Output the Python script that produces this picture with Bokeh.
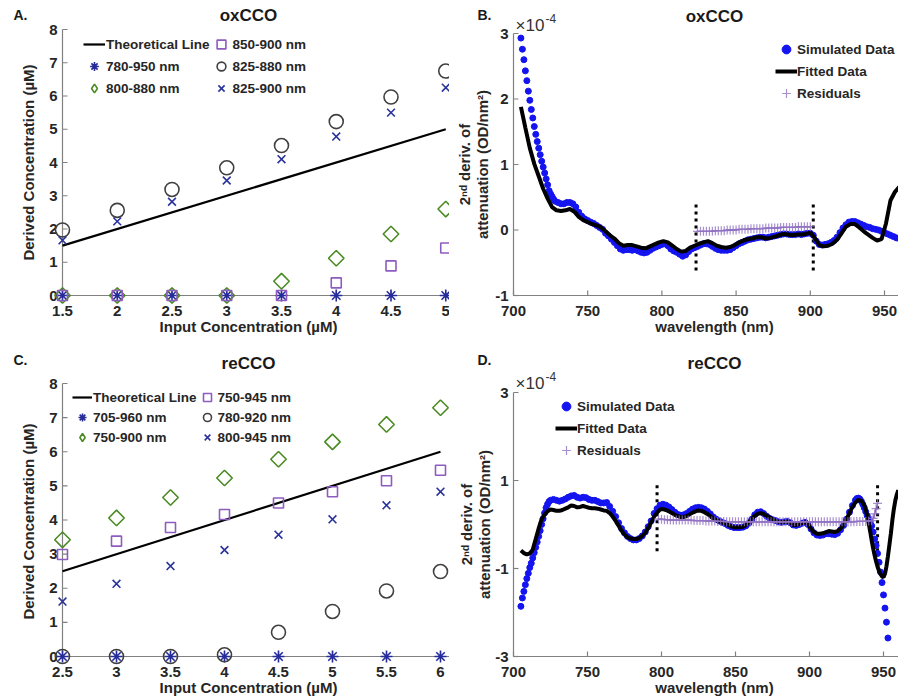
import math
from bokeh.plotting import figure
from bokeh.models import Range1d, Legend, LegendItem, Label
from bokeh.core.properties import value
from bokeh.layouts import column, row
from bokeh.embed import file_html
from bokeh.resources import INLINE

FONT = "Liberation Sans"
AX = "#808080"
TXT = "#262626"

# ---------------- Panel A (oxCCO concentrations) ----------------
a_input = [1.5, 2.0, 2.5, 3.0, 3.5, 4.0, 4.5, 5.0]
a_theory_x = [1.5, 5.0]
a_theory_y = [1.5, 5.0]
a_780_950 = [0, 0, 0, 0, 0, 0, 0, 0]
a_800_880 = [0, 0, 0, 0, 0.43, 1.12, 1.85, 2.60]
a_850_900 = [0, 0, 0, 0, 0, 0.38, 0.89, 1.43]
a_825_880 = [1.97, 2.56, 3.19, 3.84, 4.51, 5.23, 5.97, 6.75]
a_825_900 = [1.66, 2.23, 2.82, 3.46, 4.10, 4.78, 5.50, 6.25]
a_labels = ["Theoretical Line", "780-950 nm", "800-880 nm", "850-900 nm", "825-880 nm", "825-900 nm"]
a_xticks = [1.5, 2, 2.5, 3, 3.5, 4, 4.5, 5]

# ---------------- Panel C (reCCO concentrations) ----------------
c_input = [2.5, 3.0, 3.5, 4.0, 4.5, 5.0, 5.5, 6.0]
c_theory_x = [2.5, 6.0]
c_theory_y = [2.5, 6.0]
c_705_960 = [0, 0, 0, 0, 0, 0, 0, 0]
c_750_900 = [3.42, 4.06, 4.66, 5.23, 5.78, 6.29, 6.80, 7.29]
c_750_945 = [2.99, 3.38, 3.78, 4.16, 4.50, 4.83, 5.15, 5.46]
c_780_920 = [0, 0, 0, 0.05, 0.71, 1.32, 1.92, 2.49]
c_800_945 = [1.61, 2.13, 2.65, 3.12, 3.57, 4.02, 4.43, 4.83]
c_labels = ["Theoretical Line", "705-960 nm", "750-900 nm", "750-945 nm", "780-920 nm", "800-945 nm"]
c_xticks = [2.5, 3, 3.5, 4, 4.5, 5, 5.5, 6]

conc_yticks = [0, 1, 2, 3, 4, 5, 6, 7, 8]

# ---------------- Panel B (oxCCO spectra, x1e-4) ----------------
b_sim_nm = list(range(705, 729)) + list(range(730, 961, 2))
b_sim = [2.93, 2.76, 2.60, 2.43, 2.28, 2.12, 1.98, 1.84, 1.71, 1.58,
         1.46, 1.35, 1.25, 1.15, 1.05, 0.96, 0.87, 0.78, 0.69, 0.60,
         0.55, 0.51, 0.47, 0.44,
         0.42, 0.40, 0.40, 0.42, 0.42, 0.40, 0.35, 0.27, 0.21, 0.17,
         0.145, 0.12, 0.10, 0.07, 0.04, 0.01, -0.05, -0.09, -0.14, -0.19,
         -0.24, -0.29, -0.31, -0.30, -0.30, -0.31, -0.30, -0.32, -0.34, -0.35,
         -0.34, -0.31, -0.28, -0.26, -0.24, -0.22, -0.21, -0.24, -0.29, -0.32,
         -0.34, -0.37, -0.40, -0.38, -0.33, -0.29, -0.27, -0.25, -0.23, -0.21,
         -0.21, -0.22, -0.25, -0.28, -0.30, -0.31, -0.31, -0.31, -0.30, -0.27,
         -0.24, -0.21, -0.19, -0.17, -0.15, -0.14, -0.13, -0.12, -0.11, -0.11,
         -0.12, -0.11, -0.10, -0.09, -0.08, -0.07, -0.06, -0.06, -0.07, -0.07,
         -0.07, -0.06, -0.07, -0.06, -0.05, -0.05, -0.08, -0.17, -0.22, -0.23,
         -0.22, -0.21, -0.19, -0.16, -0.11, -0.04, 0.03, 0.08, 0.12, 0.13,
         0.13, 0.11, 0.09, 0.07, 0.05, 0.04, 0.02, 0.01, 0.00, -0.02,
         -0.04, -0.06, -0.08, -0.10, -0.12, -0.13]
b_fit_nm = list(range(705, 961, 3)) + [960]
b_fit = [1.88, 1.56, 1.25, 1.01, 0.82, 0.63, 0.48, 0.35, 0.30, 0.29,
         0.30, 0.32, 0.28, 0.20, 0.15, 0.12, 0.09, 0.07, 0.04, -0.02,
         -0.08, -0.13, -0.20, -0.24, -0.23, -0.23, -0.25, -0.27, -0.28, -0.25,
         -0.22, -0.19, -0.17, -0.19, -0.24, -0.29, -0.33, -0.32, -0.27, -0.24,
         -0.21, -0.19, -0.17, -0.20, -0.24, -0.26, -0.27, -0.26, -0.23, -0.19,
         -0.16, -0.14, -0.13, -0.11, -0.11, -0.13, -0.12, -0.10, -0.08, -0.06,
         -0.07, -0.08, -0.07, -0.07, -0.06, -0.04, -0.12, -0.23, -0.25, -0.24,
         -0.21, -0.15, -0.05, 0.05, 0.09, 0.09, 0.04, -0.02, -0.07, -0.12,
         -0.16, -0.14, 0.10, 0.45, 0.58, 0.66]
b_res_nm = list(range(824, 902, 2))
b_res = [-0.02, -0.02, -0.02, -0.02, -0.02, -0.02, -0.01, -0.01, -0.01, -0.01,
         0.00, 0.00, 0.00, 0.00, 0.01, 0.01, 0.01, 0.01, 0.02, 0.02,
         0.02, 0.02, 0.02, 0.03, 0.03, 0.03, 0.03, 0.03, 0.04, 0.04,
         0.04, 0.04, 0.04, 0.04, 0.05, 0.05, 0.05, 0.05, 0.05]
b_window_nm = [823, 902]
b_window_y = [-0.62, 0.43]

# ---------------- Panel D (reCCO spectra, x1e-4) ----------------
d_sim_nm = list(range(705, 726)) + list(range(727, 932, 2)) + list(range(932, 954))
d_sim = [-1.86, -1.67, -1.52, -1.37, -1.23, -1.11, -0.98, -0.88, -0.76, -0.64,
         -0.52, -0.40, -0.27, -0.14, 0.00, 0.13, 0.26, 0.38, 0.46, 0.52,
         0.55,
         0.57, 0.55, 0.53, 0.55, 0.58, 0.62, 0.65, 0.66, 0.62, 0.60,
         0.62, 0.61, 0.57, 0.55, 0.55, 0.52, 0.49, 0.49, 0.50, 0.41,
         0.30, 0.18, 0.04, -0.09, -0.19, -0.27, -0.32, -0.35, -0.35, -0.32,
         -0.26, -0.17, -0.05, 0.08, 0.25, 0.36, 0.44, 0.46, 0.44, 0.40,
         0.34, 0.28, 0.23, 0.21, 0.22, 0.25, 0.30, 0.35, 0.38, 0.39,
         0.38, 0.35, 0.30, 0.24, 0.17, 0.12, 0.08, 0.05, 0.02, -0.02,
         -0.05, -0.07, -0.07, -0.07, -0.06, -0.03, 0.03, 0.12, 0.22, 0.28,
         0.29, 0.25, 0.19, 0.14, 0.11, 0.09, 0.06, 0.05, 0.06, 0.07,
         0.04, -0.01, -0.02, 0.00, 0.03, 0.05, 0.00, -0.10, -0.19, -0.24,
         -0.25, -0.24, -0.21, -0.21, -0.22, -0.23, -0.20, -0.12, -0.02, 0.12,
         0.28, 0.43, 0.55,
         0.59, 0.60, 0.58, 0.53, 0.46, 0.38, 0.29, 0.20, 0.12, 0.05,
         -0.03, -0.17, -0.33, -0.48, -0.66, -0.86, -1.08, -1.32, -1.60, -1.90,
         -2.22, -2.58]
d_fit_nm = list(range(705, 937, 2)) + list(range(937, 961))
d_fit = [-0.59, -0.65, -0.68, -0.66, -0.57, -0.33, -0.09, 0.12, 0.23, 0.30,
         0.34, 0.33, 0.31, 0.31, 0.33, 0.36, 0.39, 0.43, 0.42, 0.39,
         0.40, 0.42, 0.40, 0.38, 0.37, 0.37, 0.36, 0.34, 0.32, 0.31,
         0.26, 0.18, 0.08, -0.03, -0.14, -0.23, -0.29, -0.32, -0.33, -0.33,
         -0.31, -0.26, -0.19, -0.08, 0.05, 0.18, 0.27, 0.34, 0.35, 0.33,
         0.30, 0.26, 0.22, 0.19, 0.17, 0.17, 0.19, 0.23, 0.27, 0.30,
         0.32, 0.31, 0.28, 0.24, 0.19, 0.14, 0.10, 0.07, 0.05, 0.02,
         -0.01, -0.04, -0.06, -0.06, -0.06, -0.05, -0.01, 0.05, 0.13, 0.20,
         0.24, 0.26, 0.24, 0.20, 0.16, 0.12, 0.09, 0.06, 0.05, 0.06,
         0.07, 0.04, -0.01, -0.01, 0.01, 0.03, 0.05, 0.02, -0.10, -0.17,
         -0.21, -0.21, -0.20, -0.18, -0.15, -0.16, -0.17, -0.15, -0.09, 0.00,
         0.12, 0.26, 0.40, 0.50, 0.56, 0.54,
         0.44, 0.34, 0.20, 0.03, -0.16, -0.36, -0.54, -0.70, -0.84, -0.96,
         -1.06, -1.13, -1.18, -1.20, -1.12, -0.95, -0.72, -0.46, -0.20, 0.10,
         0.35, 0.55, 0.68, 0.78]
d_res_nm = list(range(798, 943, 2)) + [943, 944, 945, 946]
d_res = [0.12, 0.12, 0.11, 0.11, 0.10, 0.10, 0.10, 0.10, 0.10, 0.10,
         0.10, 0.10, 0.09, 0.09, 0.09, 0.09, 0.08, 0.08, 0.08, 0.08,
         0.07, 0.07, 0.07, 0.06, 0.06, 0.06, 0.06, 0.06, 0.06, 0.06,
         0.06, 0.06, 0.06, 0.06, 0.06, 0.06, 0.06, 0.06, 0.06, 0.06,
         0.06, 0.06, 0.06, 0.06, 0.06, 0.06, 0.06, 0.06, 0.06, 0.06,
         0.06, 0.06, 0.06, 0.06, 0.06, 0.06, 0.06, 0.06, 0.06, 0.06,
         0.06, 0.06, 0.06, 0.06, 0.06, 0.06, 0.06, 0.07, 0.07, 0.07,
         0.07, 0.08, 0.09,
         0.14, 0.24, 0.36, 0.48]
d_window_nm = [797, 946]
d_window_y = [-0.61, 0.97]

spec_xticks = [700, 750, 800, 850, 900, 950]
b_yticks = [-1, 0, 1, 2, 3]
d_yticks = [-3, -1, 1, 3]
spec_labels = ["Simulated Data", "Fitted Data", "Residuals"]


class Panel:
    """A figure whose frame fills the canvas; x0/y0 (data) sit at pixel px0/py0."""

    def __init__(self, w, h, x0, px0, xs, y0, py0, ys):
        self.w, self.h = w, h
        self.px0, self.py0 = px0, py0
        self.xs, self.ys = xs, ys
        self.xa = x0 - px0 / xs
        self.yt = y0 + py0 / ys
        self.p = figure(width=w, height=h,
                        x_range=Range1d(self.xa, self.xa + w / xs),
                        y_range=Range1d(self.yt - h / ys, self.yt),
                        output_backend="svg", toolbar_location=None,
                        x_axis_type=None, y_axis_type=None, min_border=0)
        self.p.outline_line_color = None
        self.p.grid.visible = False

    def X(self, px):
        return self.xa + px / self.xs

    def Y(self, py):
        return self.yt - py / self.ys

    def label(self, text, px, py, size="15px", style="bold", align="center", angle=0.0,
              color=TXT):
        self.p.add_layout(Label(x=self.X(px), y=self.Y(py), text=text, angle=angle,
                                text_font=FONT, text_font_style=style, text_font_size=size,
                                text_color=color, text_align=align, text_baseline="middle"))

    def axes(self, xticks, yticks, xlabel, ylabel_lines, ylabel_px, ylabel_py):
        p = self.p
        x0v, y0v = xticks[0], yticks[0]
        # axis lines
        p.segment(x0=[x0v, x0v], y0=[y0v, y0v], x1=[x0v, self.X(self.w)], y1=[yticks[-1], y0v],
                  line_color=AX, line_width=1.2)
        # inward ticks
        p.segment(x0=[x0v] * len(yticks), y0=yticks, x1=[self.X(self.px0 + 5)] * len(yticks),
                  y1=yticks, line_color=AX, line_width=1.2)
        p.segment(x0=xticks, y0=[y0v] * len(xticks), x1=xticks,
                  y1=[self.Y(self.py0 - 5)] * len(xticks), line_color=AX, line_width=1.2)
        # tick labels
        p.text(x=[self.X(self.px0 - 5)] * len(yticks), y=yticks, text=[f"{t:g}" for t in yticks],
               text_align="right", text_baseline="middle", text_font=value(FONT),
               text_font_style="bold", text_font_size="15px", text_color=TXT)
        p.text(x=xticks, y=[self.Y(self.py0 + 15)] * len(xticks), text=[f"{t:g}" for t in xticks],
               text_align="center", text_baseline="middle", text_font=value(FONT),
               text_font_style="bold", text_font_size="15px", text_color=TXT)
        # axis labels
        self.label(xlabel, self.xlabel_px, self.py0 + 31)
        for k, line in enumerate(ylabel_lines):
            self.label(line, ylabel_px[k], ylabel_py, angle=math.pi / 2)


def legend(p, items, loc, glyph, nrows=None, standoff=1):
    kw = dict(nrows=nrows, orientation="vertical") if nrows else {}
    leg = Legend(items=items, location=loc, glyph_width=glyph, glyph_height=glyph,
                 label_height=glyph, spacing=0, padding=0, margin=0, label_standoff=standoff,
                 label_text_font=FONT, label_text_font_style="bold",
                 label_text_font_size="13.5px", label_text_color=TXT,
                 background_fill_alpha=0, border_line_color=None, inactive_fill_alpha=0, **kw)
    p.add_layout(leg)


def conc_panel(P, title, let, title_py, let_py, xs, theory_x, theory_y, series, labels, xticks,
               ylabel_py, leg_top, glyph, leg_left):
    p = P.p
    P.xlabel_px = 248
    P.axes(xticks, conc_yticks, "Input Concentration (µM)", ["Derived Concentration (µM)"], [28],
           ylabel_py)
    r_line = p.line(theory_x, theory_y, line_color="black", line_width=2.2)
    specs = [("asterisk", "#262b9a", 12, 0),
             ("square", "#4b8b23", 11, math.pi / 4),
             ("square", "#8e5cc0", 10, 0),
             ("circle", "#404040", 14, 0),
             ("x", "#2a329c", 11, 0)]
    rends = [r_line]
    for k, ((marker, color, size, ang), ys) in enumerate(zip(specs, series)):
        r = p.scatter(xs, ys, marker=marker, size=size, angle=ang, fill_color=None,
                      line_color=color, line_width=1.6)
        if k == 1:
            # hidden twin used only for the legend swatch (drawn as a diamond)
            r = p.scatter(xs, ys, marker="diamond", size=size, fill_color=None,
                          line_color=color, line_width=1.6, visible=False)
        rends.append(r)
    items = [LegendItem(label=lab, renderers=[r]) for lab, r in zip(labels, rends)]
    legend(p, items, (leg_left, P.h - leg_top - 3 * glyph), glyph, nrows=3)
    P.label(title, 248, title_py, size="17px", color="#1a1a1a")
    P.label(let, 13, let_py, size="14px", align="left", color="#1a1a1a")


def spec_panel(P, title, let, title_py, let_py, exp_py, xticks, yticks, ylabel_px, ylabel_py,
               sim_x, sim_y, fit_x, fit_y, res_x, res_y, win_x, win_y, leg_top, leg_left):
    p = P.p
    P.xlabel_px = 265
    P.axes(xticks, yticks, "wavelength (nm)", ["2ⁿᵈ deriv. of", "attenuation (OD/nm²)"],
           ylabel_px, ylabel_py)
    p.segment(x0=win_x, y0=[win_y[0]] * 2, x1=win_x, y1=[win_y[1]] * 2,
              line_color="black", line_width=3, line_dash="3 4")
    r_sim = p.scatter(sim_x, sim_y, marker="circle", size=6, fill_color="#1414f0",
                      line_color="#1414f0")
    r_fit = p.line(fit_x, fit_y, line_color="black", line_width=4)
    p.line(res_x, res_y, line_color="#6a48a0", line_width=1.3)
    r_res = p.scatter(res_x, res_y, marker="cross", size=9, line_color="#9273c4",
                      line_alpha=0.8, line_width=1.2)
    items = [LegendItem(label=lab, renderers=[r]) for lab, r in zip(spec_labels, [r_sim, r_fit, r_res])]
    legend(p, items, (leg_left, P.h - leg_top - 66), 22, standoff=0)
    P.label(title, 265, title_py, size="17px", color="#1a1a1a")
    P.label(let, 28, let_py, size="14px", align="left", color="#1a1a1a")
    P.label("×10", 66, exp_py, size="17px", style="normal", align="left", color="#333333")
    P.label("-4", 96, exp_py - 7, size="12px", style="normal", align="left", color="#333333")


PA = Panel(449, 340, 1.5, 62, 109.5, 0, 295, 33.25)
PB = Panel(449, 340, 700, 64, 1.484, -1, 295, 65.5)
PC = Panel(449, 360, 2.5, 62, 108.0, 0, 316, 34.125)
PD = Panel(449, 360, 700, 64, 1.48, -3, 316, 44.0)

conc_panel(PA, "oxCCO", "A.", 15, 14, a_input, a_theory_x, a_theory_y,
           [a_780_950, a_800_880, a_850_900, a_825_880, a_825_900], a_labels, a_xticks,
           162, 33, 22, 83)
conc_panel(PC, "reCCO", "C.", 23, 19, c_input, c_theory_x, c_theory_y,
           [c_705_960, c_750_900, c_750_945, c_780_920, c_800_945], c_labels, c_xticks,
           181, 47, 20, 72)
spec_panel(PB, "oxCCO", "B.", 16, 14, 25, spec_xticks, b_yticks, [15, 33], 164,
           b_sim_nm, b_sim, b_fit_nm, b_fit, b_res_nm, b_res, b_window_nm, b_window_y, 38, 326)
spec_panel(PD, "reCCO", "D.", 23, 19, 43, spec_xticks, d_yticks, [17, 35], 184,
           d_sim_nm, d_sim, d_fit_nm, d_fit, d_res_nm, d_res, d_window_nm, d_window_y, 55, 106)

layout = column(row(PA.p, PB.p), row(PC.p, PD.p))
open("out.html", "w").write(file_html(layout, INLINE))
